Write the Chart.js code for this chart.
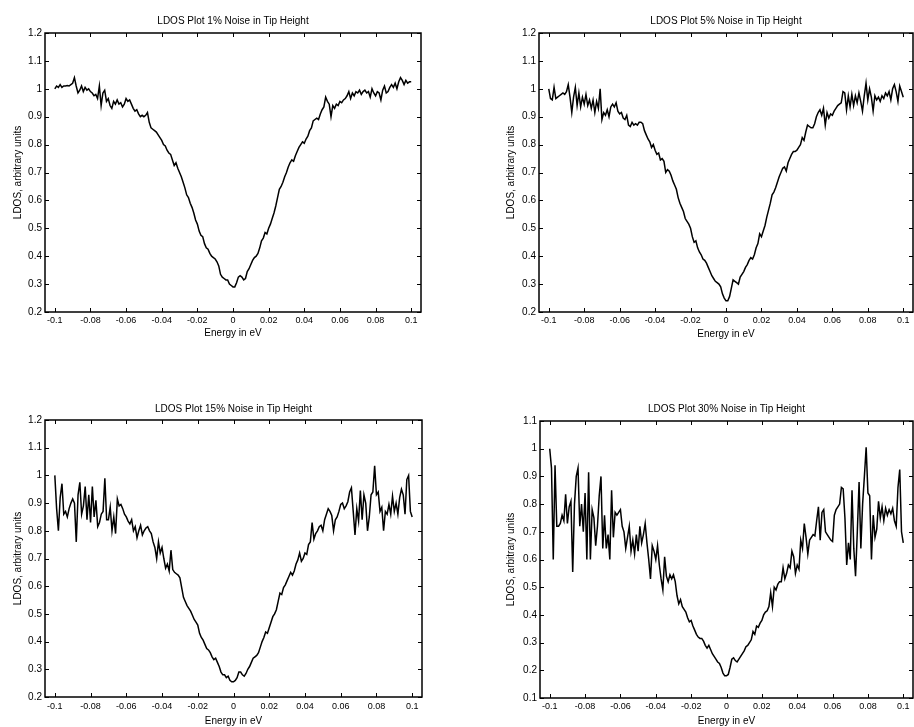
<!DOCTYPE html>
<html><head><meta charset="utf-8">
<script src="https://cdn.jsdelivr.net/npm/chart.js@4"></script>
<style>
html,body{margin:0;padding:0;background:#fff;}
body{width:914px;height:727px;position:relative;overflow:hidden;}
canvas{position:absolute;}
</style></head><body>
<canvas id="c1" width="457" height="364" style="left:0;top:0"></canvas>
<canvas id="c2" width="457" height="364" style="left:457px;top:0"></canvas>
<canvas id="c3" width="457" height="363" style="left:0;top:364px"></canvas>
<canvas id="c4" width="457" height="363" style="left:457px;top:364px"></canvas>
<script>
// ---- data (energy step 0.001 eV from -0.1 to 0.1) ----
const titles = [
  "LDOS Plot 1% Noise in Tip Height",
  "LDOS Plot 5% Noise in Tip Height",
  "LDOS Plot 15% Noise in Tip Height",
  "LDOS Plot 30% Noise in Tip Height"
];
const xTitle = "Energy in eV";
const yTitle = "LDOS, arbitrary units";
const xTicks = [-0.1,-0.08,-0.06,-0.04,-0.02,0,0.02,0.04,0.06,0.08,0.1];
const xTickLabels = ["-0.1","-0.08","-0.06","-0.04","-0.02","0","0.02","0.04","0.06","0.08","0.1"];
const yTicksA = [0.2,0.3,0.4,0.5,0.6,0.7,0.8,0.9,1.0,1.1,1.2];
const yTickLabelsA = ["0.2","0.3","0.4","0.5","0.6","0.7","0.8","0.9","1","1.1","1.2"];
const yTicksB = [0.1,0.2,0.3,0.4,0.5,0.6,0.7,0.8,0.9,1.0,1.1];
const yTickLabelsB = ["0.1","0.2","0.3","0.4","0.5","0.6","0.7","0.8","0.9","1","1.1"];

const ldos1 = [
1.00,1.01,1.005,1.015,1.005,1.01,1.01,1.012,1.01,1.015,
1.02,1.04,1.01,0.985,0.995,1.01,0.99,1.005,0.995,1.0,
0.99,0.985,0.975,0.98,0.965,1.01,0.94,0.985,0.995,0.955,
0.965,0.94,0.93,0.955,0.945,0.96,0.945,0.95,0.935,0.945,
0.965,0.955,0.96,0.945,0.93,0.92,0.925,0.91,0.90,0.905,
0.90,0.905,0.915,0.88,0.86,0.855,0.85,0.845,0.835,0.825,
0.815,0.80,0.795,0.78,0.77,0.765,0.745,0.725,0.735,0.715,
0.70,0.685,0.665,0.645,0.62,0.61,0.59,0.575,0.555,0.53,
0.515,0.49,0.475,0.47,0.445,0.43,0.425,0.41,0.40,0.395,
0.39,0.38,0.365,0.335,0.325,0.32,0.315,0.315,0.30,0.295,
0.29,
0.29,0.305,0.325,0.33,0.325,0.315,0.32,0.345,0.355,0.37,
0.385,0.395,0.40,0.41,0.43,0.455,0.465,0.485,0.48,0.50,
0.515,0.535,0.555,0.58,0.61,0.64,0.65,0.665,0.685,0.70,
0.72,0.735,0.745,0.74,0.76,0.775,0.79,0.80,0.81,0.805,
0.82,0.83,0.85,0.86,0.885,0.89,0.895,0.89,0.91,0.925,
0.935,0.97,0.955,0.945,0.90,0.94,0.93,0.945,0.94,0.955,
0.95,0.96,0.965,0.975,0.99,0.965,0.985,0.975,0.99,0.985,
0.995,0.98,0.99,0.995,0.985,0.99,0.97,1.0,0.985,0.975,
0.99,0.985,0.96,0.995,1.01,0.985,0.99,1.005,1.015,1.005,
1.02,1.0,1.025,1.04,1.03,1.015,1.03,1.02,1.025,1.025
];
const ldos5 = [
1.0,0.965,0.96,1.005,0.965,0.97,0.975,0.98,0.985,0.98,
0.99,1.015,0.97,0.915,0.97,1.005,0.94,0.985,0.935,0.97,
0.945,0.98,0.94,0.96,0.93,0.96,0.915,0.955,0.93,1.0,
0.89,0.915,0.905,0.925,0.90,0.935,0.945,0.935,0.95,0.92,
0.91,0.915,0.895,0.89,0.905,0.87,0.865,0.88,0.87,0.875,
0.87,0.88,0.88,0.875,0.85,0.835,0.82,0.81,0.79,0.80,
0.78,0.765,0.77,0.745,0.75,0.74,0.70,0.71,0.705,0.69,
0.67,0.655,0.64,0.61,0.59,0.575,0.56,0.535,0.525,0.515,
0.50,0.47,0.45,0.455,0.43,0.415,0.405,0.39,0.385,0.375,
0.36,0.345,0.33,0.32,0.31,0.305,0.30,0.29,0.265,0.25,
0.24,
0.24,0.255,0.285,0.315,0.31,0.305,0.30,0.325,0.335,0.345,
0.36,0.37,0.385,0.395,0.39,0.405,0.43,0.445,0.48,0.47,
0.49,0.51,0.54,0.565,0.59,0.62,0.63,0.645,0.665,0.685,
0.70,0.715,0.72,0.705,0.735,0.75,0.765,0.775,0.775,0.78,
0.79,0.80,0.825,0.815,0.845,0.87,0.865,0.86,0.86,0.875,
0.90,0.915,0.925,0.905,0.93,0.87,0.915,0.895,0.91,0.905,
0.92,0.93,0.94,0.945,0.95,0.99,0.985,0.925,0.975,0.935,
0.98,0.94,0.975,0.95,0.985,0.955,0.92,0.975,1.02,0.96,
1.0,0.97,0.92,0.975,0.96,0.97,0.955,0.975,0.965,0.985,
0.975,0.99,0.96,1.0,1.015,0.99,0.955,1.01,0.99,0.97
];
const ldos15 = [
1.0,0.88,0.80,0.92,0.97,0.86,0.87,0.85,0.88,0.90,
0.915,0.90,0.76,0.93,0.975,0.86,0.89,0.96,0.84,0.93,
0.83,0.96,0.85,0.91,0.815,0.83,0.86,0.87,0.99,0.84,
0.84,0.885,0.80,0.85,0.79,0.915,0.89,0.895,0.88,0.86,
0.85,0.835,0.825,0.84,0.80,0.815,0.775,0.80,0.82,0.785,
0.80,0.81,0.815,0.80,0.79,0.76,0.74,0.70,0.76,0.72,
0.74,0.70,0.665,0.68,0.655,0.73,0.66,0.65,0.645,0.64,
0.63,0.595,0.56,0.545,0.53,0.52,0.51,0.495,0.48,0.47,
0.46,0.43,0.415,0.405,0.39,0.375,0.37,0.36,0.345,0.335,
0.34,0.325,0.31,0.29,0.28,0.28,0.27,0.275,0.26,0.255,
0.255,
0.26,0.27,0.29,0.29,0.28,0.275,0.285,0.30,0.31,0.325,
0.34,0.345,0.35,0.36,0.38,0.40,0.415,0.435,0.43,0.45,
0.47,0.49,0.50,0.515,0.545,0.575,0.57,0.595,0.605,0.62,
0.635,0.65,0.64,0.655,0.68,0.695,0.72,0.69,0.70,0.72,
0.715,0.75,0.76,0.83,0.77,0.79,0.80,0.815,0.82,0.80,
0.84,0.86,0.88,0.87,0.855,0.80,0.84,0.85,0.87,0.895,
0.90,0.88,0.89,0.905,0.94,0.955,0.87,0.785,0.88,0.835,
0.945,0.84,0.93,0.90,0.80,0.85,0.93,0.94,1.035,0.93,
0.94,0.87,0.885,0.80,0.87,0.86,0.895,0.86,0.925,0.87,
0.90,0.86,0.92,0.95,0.93,0.86,0.985,1.0,0.87,0.85
];
const ldos30 = [
1.0,0.93,0.60,0.94,0.72,0.72,0.73,0.76,0.74,0.835,
0.73,0.79,0.81,0.555,0.80,0.90,0.93,0.72,0.80,0.70,
0.84,0.60,0.915,0.60,0.78,0.75,0.65,0.72,0.83,0.90,
0.64,0.76,0.64,0.69,0.60,0.85,0.68,0.77,0.76,0.77,
0.78,0.72,0.70,0.64,0.68,0.72,0.63,0.67,0.62,0.69,
0.63,0.72,0.66,0.69,0.73,0.66,0.60,0.53,0.65,0.63,
0.60,0.65,0.58,0.53,0.49,0.61,0.54,0.52,0.545,0.53,
0.545,0.52,0.47,0.44,0.455,0.43,0.42,0.41,0.39,0.375,
0.38,0.36,0.345,0.33,0.32,0.315,0.315,0.305,0.29,0.28,
0.29,0.275,0.26,0.25,0.24,0.23,0.225,0.21,0.19,0.18,
0.18,
0.185,0.21,0.24,0.245,0.235,0.23,0.24,0.25,0.26,0.27,
0.285,0.29,0.30,0.31,0.34,0.33,0.36,0.355,0.37,0.38,
0.40,0.41,0.415,0.43,0.48,0.43,0.50,0.49,0.51,0.52,
0.52,0.57,0.53,0.55,0.58,0.57,0.63,0.61,0.55,0.58,
0.565,0.67,0.64,0.73,0.68,0.62,0.67,0.68,0.69,0.685,
0.74,0.79,0.67,0.77,0.78,0.70,0.69,0.68,0.67,0.665,
0.76,0.78,0.79,0.80,0.86,0.855,0.75,0.58,0.66,0.60,
0.85,0.64,0.54,0.70,0.88,0.64,0.80,0.90,1.005,0.84,
0.83,0.60,0.76,0.68,0.71,0.81,0.75,0.79,0.74,0.785,
0.76,0.78,0.765,0.785,0.74,0.72,0.86,0.925,0.70,0.66
];

const FONT = "'Liberation Sans', Arial, Helvetica, sans-serif";

const frame = {
  id: 'frame',
  afterDatasetsDraw(chart) {
    const {ctx, chartArea: a, scales: {x, y}} = chart;
    ctx.save();
    ctx.strokeStyle = '#000';
    ctx.lineWidth = 1;
    ctx.beginPath();
    x.ticks.forEach(t => {
      const p = Math.round(x.getPixelForValue(t.value)) + 0.5;
      ctx.moveTo(p, a.bottom); ctx.lineTo(p, a.bottom - 4);
      ctx.moveTo(p, a.top); ctx.lineTo(p, a.top + 4);
    });
    y.ticks.forEach(t => {
      const p = Math.round(y.getPixelForValue(t.value)) + 0.5;
      ctx.moveTo(a.left, p); ctx.lineTo(a.left + 4, p);
      ctx.moveTo(a.right, p); ctx.lineTo(a.right - 4, p);
    });
    ctx.stroke();
    ctx.lineWidth = 1.5;
    ctx.strokeRect(a.left, a.top, a.right - a.left, a.bottom - a.top);
    ctx.restore();
  }
};

function makeChart(id, title, values, yTicks, yLabels, g) {
  const pts = values.map((v, i) => ({x: +(-0.1 + i * 0.001).toFixed(3), y: v}));
  return new Chart(document.getElementById(id), {
    type: 'line',
    data: { datasets: [{ data: pts, borderColor: '#000', borderWidth: 1.5,
      pointRadius: 0, tension: 0, fill: false }] },
    options: {
      responsive: false, animation: false, devicePixelRatio: 1,
      layout: { padding: { left: g.left, right: g.right, top: 0, bottom: 0 } },
      plugins: {
        legend: { display: false },
        tooltip: { enabled: false },
        title: { display: true, text: title, fullSize: false, color: '#000',
          font: { family: FONT, size: 10, weight: 'normal' },
          padding: { top: g.tTop, bottom: g.tBot } }
      },
      scales: {
        x: {
          type: 'linear', min: -0.1055, max: 0.1055,
          grid: { display: false, drawTicks: false, tickLength: 0 }, border: { display: false },
          afterBuildTicks: s => { s.ticks = xTicks.map(v => ({ value: v })); },
          afterFit: s => { s.height = g.xH; },
          ticks: { autoSkip: false, maxRotation: 0, padding: g.xPad, color: '#000',
            font: { family: FONT, size: 9 },
            callback: (v, i) => xTickLabels[i] },
          title: { display: true, text: xTitle, color: '#000',
            font: { family: FONT, size: 10 }, padding: { top: 0, bottom: g.xtB } }
        },
        y: {
          min: yTicks[0], max: yTicks[yTicks.length - 1],
          grid: { display: false, drawTicks: false, tickLength: 0 }, border: { display: false },
          afterBuildTicks: s => { s.ticks = yTicks.map(v => ({ value: v })); },
          afterFit: s => { s.width = 45; },
          ticks: { autoSkip: false, padding: 3, color: '#000',
            font: { family: FONT, size: 10 },
            callback: (v, i) => yLabels[i] },
          title: { display: true, text: yTitle, color: '#000',
            font: { family: FONT, size: 10 }, padding: { top: g.ytT, bottom: 0 } }
        }
      }
    },
    plugins: [frame]
  });
}

makeChart('c1', titles[0], ldos1, yTicksA, yTickLabelsA,
  { left: 0, right: 36, tTop: 15, tBot: 6, xH: 52, xPad: 3, xtB: 25, ytT: 12 });
makeChart('c2', titles[1], ldos5, yTicksA, yTickLabelsA,
  { left: 37, right: 1, tTop: 15, tBot: 6, xH: 52, xPad: 3, xtB: 24, ytT: 11 });
makeChart('c3', titles[2], ldos15, yTicksA, yTickLabelsA,
  { left: 0, right: 35, tTop: 39, tBot: 5, xH: 30, xPad: 4, xtB: 0, ytT: 12 });
makeChart('c4', titles[3], ldos30, yTicksB, yTickLabelsB,
  { left: 38, right: 1, tTop: 39, tBot: 6, xH: 29, xPad: 3, xtB: 0, ytT: 10 });
</script>
</body></html>
